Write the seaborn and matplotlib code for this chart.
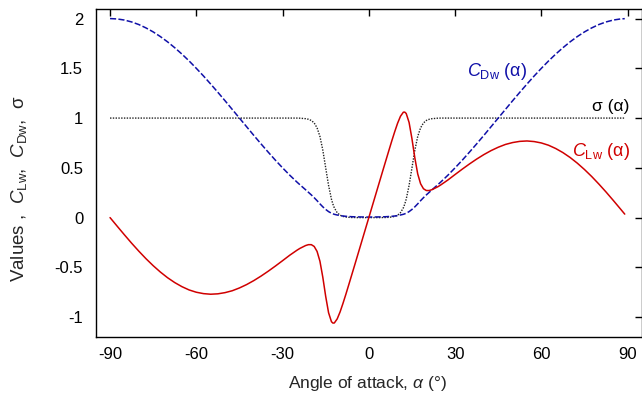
import pandas as pd
import seaborn as sns
import matplotlib.pyplot as plt

sns.set_theme(style='white')
plt.rcParams['font.family'] = ['Liberation Sans', 'DejaVu Sans']
plt.rcParams['mathtext.fontset'] = 'custom'
plt.rcParams['mathtext.rm'] = 'Liberation Sans'
plt.rcParams['mathtext.it'] = 'Liberation Sans:italic'
plt.rcParams['mathtext.default'] = 'regular'

# Angle of attack (deg)
alpha = [-90, -87.5, -85, -82.5, -80, -77.5, -75, -72.5, -70, -67.5, -65, -62.5,
         -60, -57.5, -55, -52.5, -50, -47.5, -45, -42.5, -40, -37.5, -35, -32.5,
         -30, -27.5, -25, -24, -22, -21, -20, -19, -18, -17, -16, -15, -14, -13,
         -12.5, -12, -11, -10, -9, -8, -7, -6, -5, -4, -2, 0,
         2, 4, 5, 6, 7, 8, 9, 10, 11, 12, 12.5, 13, 14, 15, 16, 17, 18, 19, 20,
         21, 22, 24, 25, 27.5, 30, 32.5, 35, 37.5, 40, 42.5, 45, 47.5, 50, 52.5,
         55, 57.5, 60, 62.5, 65, 67.5, 70, 72.5, 75, 77.5, 80, 82.5, 85, 87.5, 89]

# Drag coefficient
c_dw = [2.000, 1.996, 1.985, 1.966, 1.940, 1.906, 1.866, 1.819, 1.766, 1.707, 1.643, 1.574,
        1.500, 1.423, 1.342, 1.259, 1.174, 1.087, 1.000, 0.913, 0.826, 0.741, 0.658, 0.577,
        0.500, 0.426, 0.357, 0.331, 0.280, 0.254, 0.228, 0.200, 0.170, 0.138, 0.108, 0.082,
        0.060, 0.044, 0.038, 0.033, 0.026, 0.020, 0.016, 0.013, 0.011, 0.009, 0.008, 0.007,
        0.006, 0.005,
        0.006, 0.007, 0.008, 0.009, 0.011, 0.013, 0.016, 0.020, 0.026, 0.033, 0.038, 0.044,
        0.060, 0.082, 0.108, 0.138, 0.170, 0.200, 0.228, 0.254, 0.280, 0.331, 0.357,
        0.426, 0.500, 0.577, 0.658, 0.741, 0.826, 0.913, 1.000, 1.087, 1.174, 1.259, 1.342,
        1.423, 1.500, 1.574, 1.643, 1.707, 1.766, 1.819, 1.866, 1.906, 1.940, 1.966, 1.985,
        1.996, 1.999]

# Lift coefficient
c_lw = [0.000, -0.087, -0.173, -0.257, -0.337, -0.413, -0.483, -0.547, -0.604, -0.653,
        -0.694, -0.727, -0.750, -0.764, -0.770, -0.766, -0.754, -0.735, -0.707, -0.673,
        -0.633, -0.588, -0.539, -0.487, -0.433, -0.378, -0.328, -0.310, -0.281, -0.272,
        -0.272, -0.290, -0.340, -0.439, -0.600, -0.792, -0.956, -1.046, -1.060, -1.059,
        -1.018, -0.948, -0.863, -0.772, -0.677, -0.581, -0.485, -0.388, -0.194, 0.000,
        0.194, 0.388, 0.485, 0.581, 0.677, 0.772, 0.863, 0.948, 1.018, 1.059, 1.060, 1.046,
        0.956, 0.792, 0.600, 0.439, 0.340, 0.290, 0.272, 0.272, 0.281, 0.310, 0.328,
        0.378, 0.433, 0.487, 0.539, 0.588, 0.633, 0.673, 0.707, 0.735, 0.754, 0.766, 0.770,
        0.764, 0.750, 0.727, 0.694, 0.653, 0.604, 0.547, 0.483, 0.413, 0.337, 0.257, 0.173,
        0.087, 0.035]

# Blending function
sigma = [1.0] * 27 + [0.999, 0.994, 0.988, 0.976, 0.951, 0.902, 0.815, 0.677, 0.500,
                      0.323, 0.185, 0.136, 0.098, 0.049, 0.024, 0.012, 0.006, 0.003,
                      0.001, 0.001, 0.0, 0.0, 0.0,
                      0.0, 0.0, 0.001, 0.001, 0.003, 0.006, 0.012, 0.024, 0.049, 0.098,
                      0.136, 0.185, 0.323, 0.500, 0.677, 0.815, 0.902, 0.951, 0.976,
                      0.988, 0.994, 0.999] + [1.0] * 27

df = pd.DataFrame({'alpha': alpha, 'CDw': c_dw, 'CLw': c_lw, 'sigma': sigma})

fig = plt.figure(figsize=(6.42, 3.95), dpi=100)
ax = fig.add_axes([0.149, 0.1468, 0.851, 0.8314])

sns.lineplot(data=df, x='alpha', y='sigma', color='#222222', lw=1.0,
             linestyle=(0, (1, 1)), ax=ax)
sns.lineplot(data=df, x='alpha', y='CDw', color='#1010a8', lw=1.1,
             linestyle=(0, (4, 1.5)), ax=ax)
sns.lineplot(data=df, x='alpha', y='CLw', color='#d00000', lw=1.1, ax=ax)

ax.set_xlim(-95, 95)
ax.set_ylim(-1.2, 2.1)
ax.set_xticks([-90, -60, -30, 0, 30, 60, 90])
ax.set_yticks([-1, -0.5, 0, 0.5, 1, 1.5, 2])
ax.set_yticklabels(['-1', '-0.5', '0', '0.5', '1', '1.5', '2'])
ax.set_xticklabels(['-90', '-60', '-30', '0', '30', '60', '90'])
ax.tick_params(direction='in', length=5, width=1, colors='black', labelsize=12,
               top=True, right=True)
ax.tick_params(axis='x', pad=7)
ax.tick_params(axis='y', pad=9)
for s in ax.spines.values():
    s.set_color('black')
    s.set_linewidth(1.0)

ax.set_xlabel(r'Angle of attack, $\mathit{\alpha}$ (°)', fontsize=12.5)
ax.set_ylabel(r'Values ,  $\mathit{C}_{\mathrm{Lw}}$,  $\mathit{C}_{\mathrm{Dw}}$,  σ',
              fontsize=13.5)
ax.xaxis.set_label_coords(0.497, -0.113)
ax.yaxis.set_label_coords(-0.122, 0.45)

ax.text(55, 1.47, r'$\mathit{C}_{\mathrm{Dw}}$ (α)', color='#1010a8', fontsize=13,
        ha='right', va='center')
ax.text(90.7, 1.12, 'σ (α)', color='black', fontsize=12.5, ha='right', va='center')
ax.text(90.9, 0.66, r'$\mathit{C}_{\mathrm{Lw}}$ (α)', color='#d00000', fontsize=13,
        ha='right', va='center')

fig.savefig('out.png', dpi=100)
